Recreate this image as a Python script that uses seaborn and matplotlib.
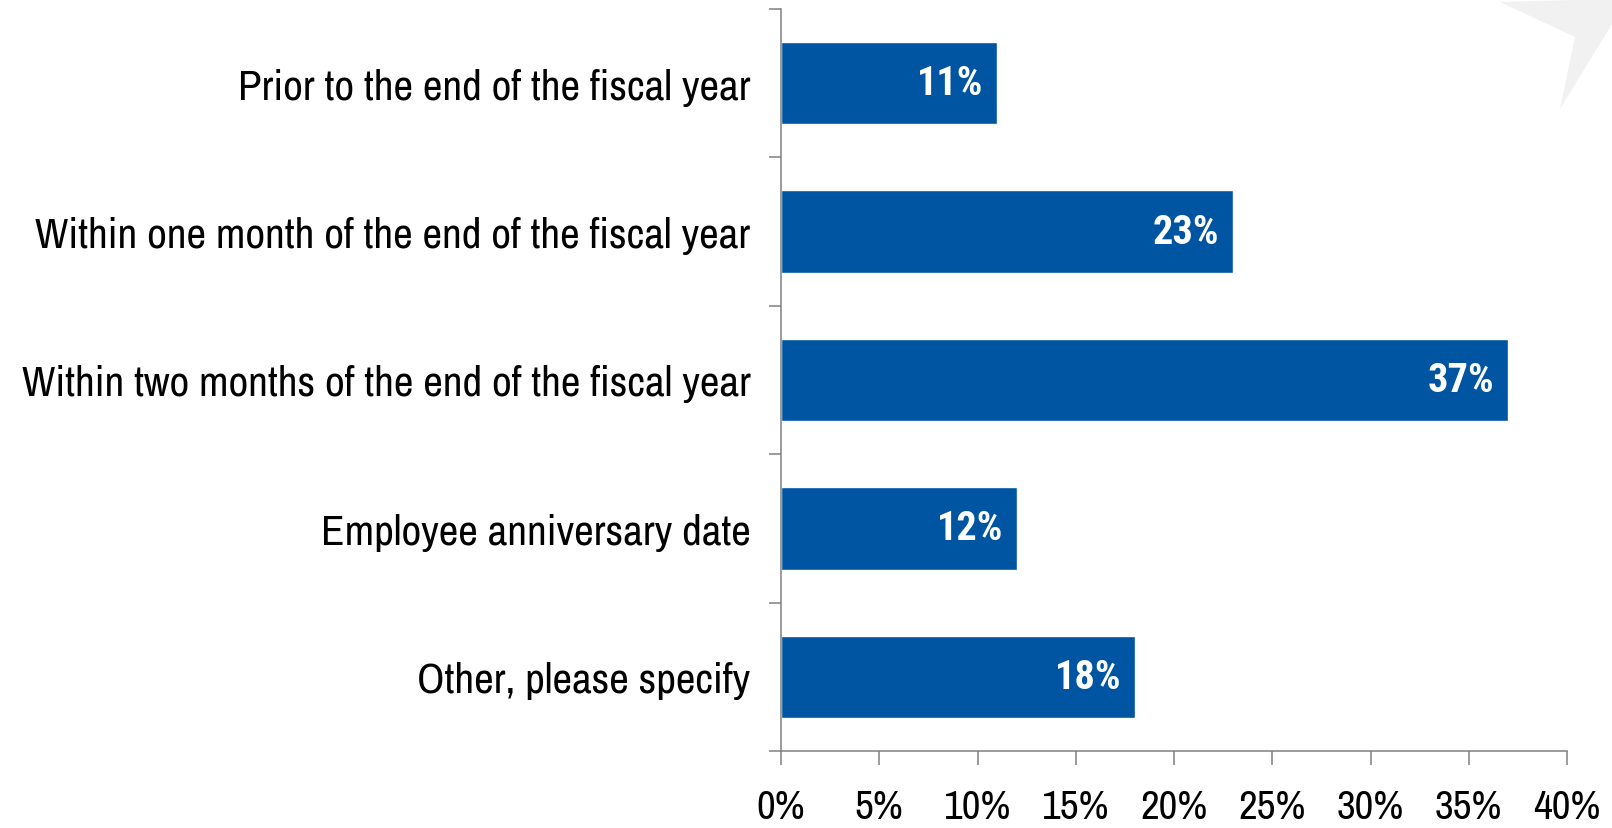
import matplotlib
matplotlib.use("Agg")
import matplotlib.pyplot as plt
from matplotlib.patches import Polygon
from matplotlib.ticker import FuncFormatter, MultipleLocator
import pandas as pd
import seaborn as sns

categories = [
    "Prior to the end of the fiscal year",
    "Within one month of the end of the fiscal year",
    "Within two months of the end of the fiscal year",
    "Employee anniversary date",
    "Other, please specify",
]
values = [11, 23, 37, 12, 18]

df = pd.DataFrame({"category": categories, "pct": values})

sns.set_style("white")
plt.rcParams["font.family"] = ["Archivo Narrow", "Roboto Condensed", "DejaVu Sans"]
plt.rcParams["font.stretch"] = "condensed"
bold_family = ["Roboto Condensed", "Asap Condensed", "DejaVu Sans"]

bar_color = "#0055A2"
axis_color = "#808080"

fig = plt.figure(figsize=(16.12, 8.29), dpi=100)
ax = fig.add_axes([781 / 1612, 1 - 752 / 829, (1567 - 781) / 1612, (752 - 10) / 829])

# faint decorative arrow in the top right corner
deco = Polygon([[1500 / 1612, 1 - 3 / 829], [1575 / 1612, 1 - 38 / 829],
                [1560 / 1612, 1 - 110 / 829], [1612 / 1612, 1 - 25 / 829],
                [1612 / 1612, 1.0]], closed=True, transform=fig.transFigure,
               facecolor="#f1f1f1", edgecolor="none", zorder=0)
fig.patches.append(deco)

sns.barplot(data=df, x="pct", y="category", color=bar_color, saturation=1,
            width=0.555, ax=ax, order=categories)

ax.set_xlim(0, 40)
ax.set_ylim(len(categories) - 0.5, -0.5)
ax.xaxis.set_major_locator(MultipleLocator(5))
ax.xaxis.set_major_formatter(FuncFormatter(lambda v, p: f"{v:.0f}%"))
ax.set_xlabel("")
ax.set_ylabel("")

# y ticks sit between categories
ax.set_yticks([i - 0.5 for i in range(len(categories) + 1)], minor=False)
ax.set_yticklabels([])
ax.set_yticks(range(len(categories)), minor=True)
ax.set_yticklabels(categories, minor=True)
ax.tick_params(axis="y", which="minor", left=False, length=0, pad=22, labelsize=31)
ax.tick_params(axis="y", which="major", left=True, length=8.6, width=1.1, color=axis_color)
ax.tick_params(axis="x", bottom=True, length=10, width=1.1, color=axis_color, pad=16.5,
               labelsize=29.5)
for lab in ax.get_xticklabels() + ax.get_yticklabels(minor=True):
    lab.set_color("black")

for side in ["top", "right"]:
    ax.spines[side].set_visible(False)
for side in ["left", "bottom"]:
    ax.spines[side].set_color(axis_color)
    ax.spines[side].set_linewidth(1.1)

for i, v in enumerate(values):
    ax.text(v - 0.7, i, f"{v}%", color="white", fontweight="bold", family=bold_family,
            fontsize=29, ha="right", va="center")

fig.savefig("out.png", dpi=100)
